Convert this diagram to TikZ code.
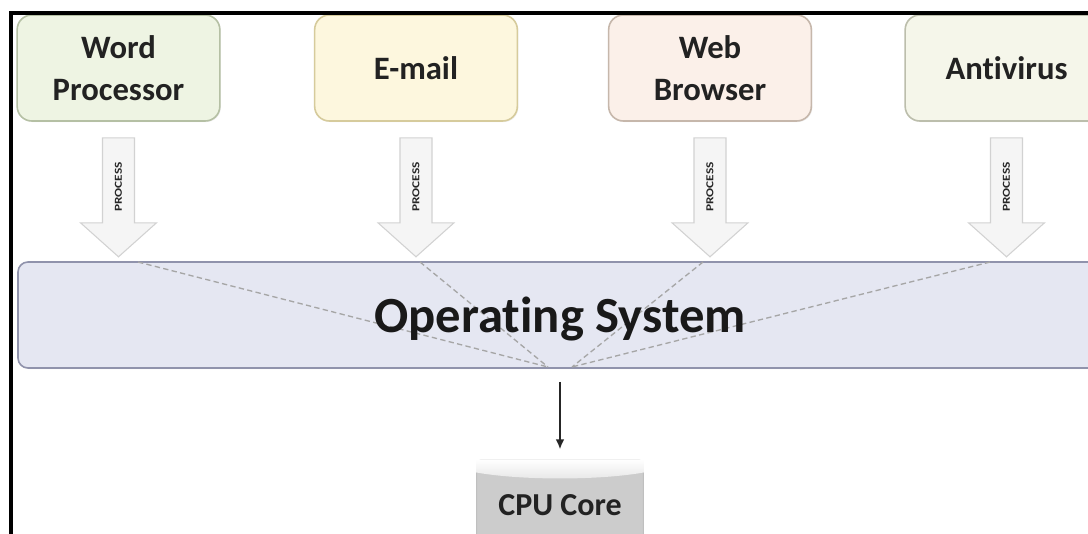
\documentclass[tikz,border=0pt]{standalone}
\usepackage{fontspec}
\setmainfont{Carlito}[RawFeature={-liga;-clig}]
\usetikzlibrary{shadows,arrows.meta,calc}
\definecolor{wpfill}{HTML}{EEF4E3}
\definecolor{wpdraw}{HTML}{B5C0A4}
\definecolor{emfill}{HTML}{FDF7DE}
\definecolor{emdraw}{HTML}{D6CB9C}
\definecolor{wbfill}{HTML}{FBF0E9}
\definecolor{wbdraw}{HTML}{C6B7AB}
\definecolor{avfill}{HTML}{F5F6EA}
\definecolor{avdraw}{HTML}{BCBEAC}
\definecolor{osfill}{HTML}{E5E7F2}
\definecolor{osdraw}{HTML}{9093AC}
\definecolor{txt}{HTML}{222222}
\newcommand\ProcArrow[2]{%
  \begin{scope}[shift={(#1.south)}]
    \path[arrowfill] (-16,16) -- (16,16) -- (16,101) -- (38,101) -- (0,135) -- (-38,101) -- (-16,101) -- cycle;
    \node[proclabel] (#2) at (0,65) {PROCESS};
  \end{scope}}
\begin{document}
\begin{tikzpicture}[x=0.75pt,y=-0.75pt,
  appbox/.style={rectangle, rounded corners=11pt, line width=1.2pt,
    minimum width=152pt, minimum height=79.5pt, align=center,
    font=\bfseries\fontsize{24.5}{31}\selectfont, text=txt,
    drop shadow={opacity=0.12, shadow xshift=0.8pt, shadow yshift=-0.8pt}},
  osbar/.style={rectangle, rounded corners=7.5pt, line width=1.2pt,
    fill=osfill, draw=osdraw, minimum width=813pt, minimum height=79.5pt,
    drop shadow={opacity=0.10, shadow xshift=0.6pt, shadow yshift=-0.8pt}},
  ostext/.style={font=\bfseries\fontsize{38}{40}\selectfont, text=black!90, inner sep=0pt},
  osdash/.style={dash pattern=on 4pt off 2.5pt, draw=gray!70, line width=1pt},
  arrowfill/.style={left color=gray!8, middle color=gray!32, right color=gray!8,
    draw=gray!35, line width=0.8pt},
  proclabel/.style={rotate=90, xscale=1.25, font=\bfseries\fontsize{8}{8}\selectfont,
    text=black!85, inner sep=0pt},
  cpubox/.style={rectangle, rounded corners=3pt, draw=gray!50, line width=0.8pt,
    left color=gray!40, middle color=gray!8, right color=gray!40,
    minimum width=125pt, minimum height=67.5pt,
    font=\bfseries\fontsize{24}{28}\selectfont, text=txt},
  cpuarrow/.style={-{Latex[length=7.5pt,width=6.5pt]}, line width=1.5pt, draw=black!85}
]
\clip (0,0) rectangle (1088,534);
\fill[white] (0,0) rectangle (1088,534);

% application boxes
\node[appbox, fill=wpfill, draw=wpdraw] (wp) at (118.5,68) {Word\\Processor};
\node[appbox, fill=emfill, draw=emdraw] (em) at (416,68) {E-mail};
\node[appbox, fill=wbfill, draw=wbdraw] (wb) at (710,68) {Web\\Browser};
\node[appbox, fill=avfill, draw=avdraw] (av) at (1006.5,68) {Antivirus};

% process arrows
\ProcArrow{wp}{p1}
\ProcArrow{em}{p2}
\ProcArrow{wb}{p3}
\ProcArrow{av}{p4}

% operating system bar
\node[osbar] (os) at (560,315) {};
\coordinate (t1) at (138,262);
\coordinate (t2) at (420,262);
\coordinate (t3) at (703,262);
\coordinate (t4) at (990,262);
\coordinate (b1) at (548,367);
\coordinate (b2) at (572,367);
\draw[osdash] (t1) -- (b1);
\draw[osdash] (t2) -- (b1);
\draw[osdash] (t3) -- (b2);
\draw[osdash] (t4) -- (b2);
\node[ostext, anchor=base] (ost) at (560,333) {Operating System};

% CPU core
\node[cpubox] (cpu) at (560,505) {CPU Core};
\shade[top color=white, bottom color=gray!20]
  (cpu.north west) -- (cpu.north east) -- ($(cpu.north east)+(0,13)$)
  .. controls ($(cpu.north east)+(-45,21)$) and ($(cpu.north west)+(45,21)$) ..
  ($(cpu.north west)+(0,13)$) -- cycle;
\draw[cpuarrow, shorten <=9.75pt, shorten >=7.5pt] (os.south) -- (cpu.north);

% frame
\draw[line width=3pt] (11,545) -- (11,13) -- (1100,13);
\end{tikzpicture}
\end{document}
